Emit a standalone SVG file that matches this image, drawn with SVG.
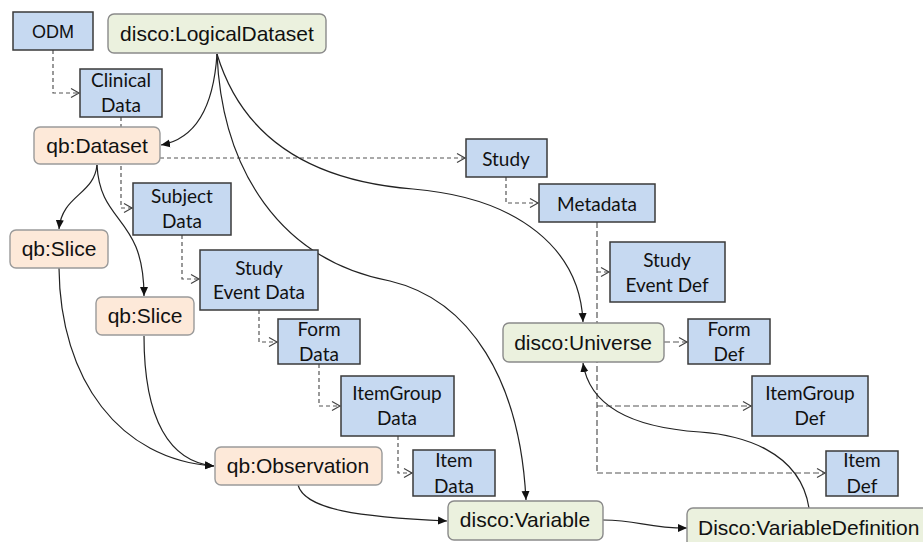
<svg xmlns="http://www.w3.org/2000/svg" width="923" height="542" viewBox="0 0 923 542">
  <style>
    .blue rect { fill: #c6d9f1; stroke: #3a3a3a; stroke-width: 1.5; }
    .green rect { fill: #ebf1de; stroke: #8a8a8a; stroke-width: 1.4; }
    .peach rect { fill: #fde9d9; stroke: #9a9a9a; stroke-width: 1.4; }
    .lbl { font-family: "Liberation Sans", Arial, sans-serif; font-size: 21px; fill: #111; text-anchor: middle; }
    .cal { font-family: Lato, "Liberation Sans", sans-serif; font-size: 19px; fill: #111; text-anchor: middle; }
    .solid { fill: none; stroke: #222; stroke-width: 1.2; marker-end: url(#head); }
    .dash { fill: none; stroke: #555; stroke-width: 1.2; stroke-dasharray: 4 3; marker-end: url(#open); }
    .dashl { fill: none; stroke: #555; stroke-width: 1.2; stroke-dasharray: 6 3; }
  </style>
  <defs>
    <marker id="head" markerUnits="userSpaceOnUse" markerWidth="10" markerHeight="10" viewBox="0 0 10 10" refX="9" refY="5" orient="auto">
      <path d="M0,1 L9,5 L0,9 Z" fill="#111"/>
    </marker>
    <marker id="open" markerUnits="userSpaceOnUse" markerWidth="12" markerHeight="12" viewBox="0 0 12 12" refX="10" refY="6" orient="auto">
      <path d="M2,1.5 L10,6 L2,10.5" fill="none" stroke="#444" stroke-width="1.2"/>
    </marker>
  </defs>

  <g id="connectors">
    <!-- containment chain on the data side -->
    <path class="dash" d="M53,50 V93 H79"/>
    <path class="dash" d="M121,117 V208 H132"/>
    <path class="dash" d="M182,235 V279 H199"/>
    <path class="dash" d="M259,310 V342 H277"/>
    <path class="dash" d="M319,364 V406 H340"/>
    <path class="dash" d="M398,436 V473 H412"/>
    <path class="dash" d="M160,158 H465"/>
    <!-- metadata side -->
    <path class="dash" d="M506,177 V203 H538"/>
    <path class="dashl" d="M597,222 V473"/>
    <path class="dash" d="M597,272 H609"/>
    <path class="dashl" d="M664,342 H687" marker-end="url(#open)"/>
    <path class="dashl" d="M597,406 H751" marker-end="url(#open)"/>
    <path class="dashl" d="M597,473 H825" marker-end="url(#open)"/>
    <!-- semantic links -->
    <path class="solid" d="M217,54 C214,100 200,138 161,145"/>
    <path class="solid" d="M217,54 C222,170 280,260 390,281 C470,300 520,380 526,500"/>
    <path class="solid" d="M217,54 C240,130 300,180 413,189 C520,198 580,250 583,322"/>
    <path class="solid" d="M97,165 C94,195 62,195 59,229"/>
    <path class="solid" d="M97,165 C100,225 144,215 144,296"/>
    <path class="solid" d="M59,268 C60,380 120,460 214,466"/>
    <path class="solid" d="M144,336 C144,420 170,462 214,466"/>
    <path class="solid" d="M298,485 C305,510 360,517 447,521"/>
    <path class="solid" d="M603,520 C640,520 645,528 687,528"/>
    <path class="solid" d="M809,508 C800,450 740,435 700,432 C640,428 590,410 583,363"/>
  </g>

  <g id="odm" class="blue"><rect x="13" y="12" width="80" height="38"/><text class="lbl" style="font-size:18px" x="53" y="38">ODM</text></g>
  <g id="logical-dataset" class="green"><rect x="108" y="14" width="218" height="39" rx="6"/><text class="lbl" x="217" y="41">disco:LogicalDataset</text></g>
  <g id="clinical-data" class="blue"><rect x="80" y="69" width="82" height="48"/><text class="cal" x="121" y="87">Clinical</text><text class="cal" x="121" y="112">Data</text></g>
  <g id="qb-dataset" class="peach"><rect x="34" y="127" width="126" height="37" rx="6"/><text class="lbl" x="97" y="153">qb:Dataset</text></g>
  <g id="study" class="blue"><rect x="466" y="139" width="81" height="38"/><text class="cal" x="506" y="166">Study</text></g>
  <g id="metadata" class="blue"><rect x="539" y="184" width="116" height="38"/><text class="cal" x="597" y="211">Metadata</text></g>
  <g id="subject-data" class="blue"><rect x="133" y="183" width="98" height="52"/><text class="cal" x="182" y="203">Subject</text><text class="cal" x="182" y="228">Data</text></g>
  <g id="slice-1" class="peach"><rect x="10" y="230" width="98" height="38" rx="6"/><text class="lbl" x="59" y="256">qb:Slice</text></g>
  <g id="slice-2" class="peach"><rect x="96" y="297" width="98" height="38" rx="6"/><text class="lbl" x="145" y="323">qb:Slice</text></g>
  <g id="study-event-data" class="blue"><rect x="200" y="250" width="118" height="60"/><text class="cal" x="259" y="275">Study</text><text class="cal" x="259" y="299">Event Data</text></g>
  <g id="study-event-def" class="blue"><rect x="610" y="242" width="115" height="60"/><text class="cal" x="667" y="267">Study</text><text class="cal" x="667" y="292">Event Def</text></g>
  <g id="form-data" class="blue"><rect x="278" y="319" width="82" height="45"/><text class="cal" x="319" y="336">Form</text><text class="cal" x="319" y="361">Data</text></g>
  <g id="universe" class="green"><rect x="503" y="323" width="161" height="39" rx="6"/><text class="lbl" x="583" y="350">disco:Universe</text></g>
  <g id="form-def" class="blue"><rect x="688" y="319" width="82" height="45"/><text class="cal" x="729" y="336">Form</text><text class="cal" x="729" y="361">Def</text></g>
  <g id="itemgroup-data" class="blue"><rect x="341" y="376" width="113" height="60"/><text class="cal" x="397" y="400">ItemGroup</text><text class="cal" x="397" y="425">Data</text></g>
  <g id="itemgroup-def" class="blue"><rect x="752" y="376" width="116" height="60"/><text class="cal" x="810" y="400">ItemGroup</text><text class="cal" x="810" y="425">Def</text></g>
  <g id="observation" class="peach"><rect x="215" y="447" width="167" height="38" rx="6"/><text class="lbl" x="298" y="473">qb:Observation</text></g>
  <g id="item-data" class="blue"><rect x="413" y="450" width="82" height="46"/><text class="cal" x="454" y="467">Item</text><text class="cal" x="454" y="493">Data</text></g>
  <g id="item-def" class="blue"><rect x="826" y="451" width="72" height="45"/><text class="cal" x="862" y="467">Item</text><text class="cal" x="862" y="493">Def</text></g>
  <g id="variable" class="green"><rect x="448" y="501" width="155" height="39" rx="6"/><text class="lbl" x="525" y="527">disco:Variable</text></g>
  <g id="variable-definition" class="green"><rect x="687" y="508" width="250" height="50" rx="6"/><text class="lbl" style="text-anchor:start" x="698" y="535">Disco:VariableDefinition</text></g>
</svg>
